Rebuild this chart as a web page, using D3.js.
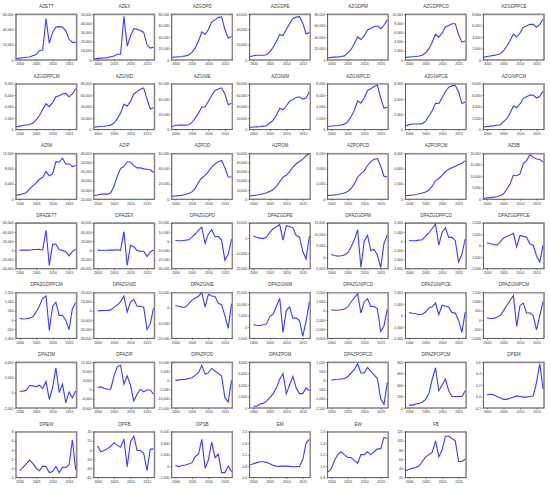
<!DOCTYPE html>
<html>
<head>
<meta charset="utf-8">
<script src="https://cdn.jsdelivr.net/npm/d3@7"></script>
<style>
  body { margin: 0; background: #fff; }
  svg { display: block; }
  .title { font-family: "Liberation Sans", Arial, sans-serif; font-size: 4.6px; fill: #444; }
  .axis text { font-family: "Liberation Sans", Arial, sans-serif; font-size: 3.5px; fill: #333; }
  .axis path, .axis line { stroke: #333; stroke-width: 0.5; }
  .line { fill: none; stroke: #3b3bff; stroke-width: 1.1; }
</style>
</head>
<body>
<div id="chart"></div>
<script>
const names = [
  "AZETT", "AZEX", "AZGDPD", "AZGDPE", "AZGDPM", "AZGDPPCD", "AZGDPPCE",
  "AZGDPPCM", "AZGNID", "AZGNIE", "AZGNIM", "AZGNIPCD", "AZGNIPCE", "AZGNIPCM",
  "AZIM", "AZIP", "AZPOD", "AZPOM", "AZPOPCD", "AZPOPCM", "AZSB",
  "DPAZETT", "DPAZEX", "DPAZGDPD", "DPAZGDPE", "DPAZGDPM", "DPAZGDPPCD", "DPAZGDPPCE",
  "DPAZGDPPCM", "DPAZGNID", "DPAZGNIE", "DPAZGNIM", "DPAZGNIPCD", "DPAZGNIPCE", "DPAZGNIPCM",
  "DPAZIM", "DPAZIP", "DPAZPOD", "DPAZPOM", "DPAZPOPCD", "DPAZPOPCM", "DPEM",
  "DPEW", "DPFB", "DPSB", "EM", "EW", "FB"
];

// level series 1999-2017, differenced series 2000-2017
const levelYears = d3.range(1999, 2018);
const diffYears = d3.range(2000, 2018);
const xTicks = [2000, 2005, 2010, 2015];

const AZETT = [2000, 2500, 3000, 3500, 4000, 5500, 7000, 12500, 13000, 54000, 22000, 36000, 43000, 43500, 43000, 38000, 27000, 23000, 23000];
const AZEX = [1000, 1800, 2000, 2200, 2600, 3600, 4300, 6300, 6300, 47500, 15000, 26000, 34000, 33500, 32000, 30000, 16500, 13000, 13800];
const AZGDPD = [4500, 5200, 5700, 6200, 7200, 8700, 13200, 21000, 33000, 48800, 44300, 52900, 65900, 69700, 74200, 75200, 53000, 37800, 40700];
const AZGDPE = [4200, 5600, 6200, 6200, 6200, 6900, 10600, 16700, 24100, 33100, 31800, 39900, 47500, 54200, 55900, 56600, 48000, 34300, 35700];
const AZGDPM = [3800, 4600, 5000, 5500, 6200, 7100, 12500, 18000, 28300, 40100, 35600, 42500, 52100, 54700, 58200, 59000, 54400, 60400, 70100];
const AZGDPPCD = [570, 650, 700, 760, 880, 1040, 1580, 2470, 3850, 5600, 4950, 5840, 7190, 7500, 7870, 7890, 5500, 3880, 4130];
const AZGDPPCE = [500, 600, 700, 800, 900, 1100, 1600, 2400, 3400, 4500, 4000, 4700, 5700, 5900, 6200, 6200, 5700, 6200, 7100];
const AZGDPPCM = [500, 600, 700, 800, 900, 1100, 1700, 2400, 3500, 4500, 4000, 4700, 5700, 5900, 6200, 6300, 5700, 6200, 7100];
const AZGNID = [4300, 4900, 5300, 5800, 6700, 7800, 11500, 19000, 29000, 44000, 41000, 49000, 62000, 66000, 70000, 72500, 53000, 36000, 38500];
const AZGNIE = [4000, 5300, 5900, 5900, 5900, 6400, 9300, 15000, 21500, 29500, 29500, 37000, 44500, 51000, 53000, 54500, 46500, 32500, 34500];
const AZGNIM = [3600, 4400, 4800, 5300, 6000, 6800, 11500, 16000, 25000, 37000, 34500, 41000, 49500, 52500, 56000, 57000, 53000, 55000, 66000];
const AZGNIPCD = [550, 620, 660, 710, 810, 950, 1360, 2240, 3340, 5000, 4600, 5500, 6800, 7100, 7500, 7700, 5500, 3700, 3900];
const AZGNIPCE = [500, 650, 730, 740, 730, 780, 1110, 1770, 2460, 3420, 3400, 4160, 4940, 5540, 5700, 5780, 4900, 3400, 3600];
const AZGNIPCM = [450, 550, 600, 650, 750, 850, 1400, 1900, 2900, 4100, 3800, 4500, 5400, 5700, 6000, 6000, 5500, 5800, 6700];
const AZIM = [1000, 1200, 1400, 1700, 2600, 3500, 4200, 5200, 5700, 7200, 6100, 6600, 9800, 9700, 10700, 9200, 9200, 8500, 8800];
const AZIP = [14000, 14500, 15500, 15500, 15500, 17000, 24000, 35000, 43500, 45500, 50500, 50500, 46500, 44000, 44000, 43000, 42500, 42000, 39000];
const AZPOD = [4000, 4300, 4700, 5200, 6200, 7500, 9500, 14000, 22000, 28000, 31000, 36000, 42000, 46000, 49000, 50500, 41000, 29000, 29000];
const AZPOM = [3500, 4000, 4500, 5200, 6000, 7000, 8500, 10500, 14000, 19000, 24000, 26000, 30000, 35000, 38500, 41000, 43500, 47000, 50000];
const AZPOPCD = [500, 510, 560, 620, 700, 800, 1000, 1400, 2000, 2900, 3300, 3700, 4400, 4900, 5200, 5300, 4300, 3000, 2900];
const AZPOPCM = [450, 500, 550, 620, 700, 800, 950, 1200, 1700, 2400, 2700, 3100, 3600, 3900, 4100, 4300, 4500, 4700, 5000];
const AZSB = [300, 600, 700, 900, 1100, 1600, 2300, 4300, 6700, 10500, 10200, 11000, 15500, 16800, 19300, 18300, 17500, 17300, 16200];

const DPAZETT = [500, 500, 500, 500, 2000, 2000, 2500, 500, 43800, -32600, 13700, 13500, 1200, 0, -3000, -12000, -2500, 2600];
const DPAZEX = [500, 200, 300, 500, 1000, 700, 1500, 0, 41000, -32500, 11000, 8000, -500, -1500, -2000, -13500, -3500, 800];
const DPAZGDPD = [700, 500, 500, 1000, 1500, 4500, 7800, 12000, 15200, -2400, 7900, 12300, 4900, 5300, 1200, -20700, -14200, 2300];
const DPAZGDPE = [1400, 600, 0, -300, 700, 3700, 6100, 7400, 9000, -1300, 8100, 7600, 6700, 1700, 700, -8600, -13700, 1400];
const DPAZGDPM = [1200, 800, 500, 700, 1000, 2000, 4500, 7500, 12000, -4400, 7000, 9600, 2900, 3400, 1000, -4500, 6000, 9700];
const DPAZGDPPCD = [80, 50, 60, 120, 160, 540, 890, 1380, 1850, -430, 970, 1450, 420, 420, 50, -2270, -1420, 240];
const DPAZGDPPCE = [260, 180, 120, 60, 350, 680, 800, 950, 1090, -90, 900, 820, 740, 150, 50, -880, -1400, 60];
const DPAZGDPPCM = [90, 55, 70, 100, 170, 440, 760, 1180, 1300, -570, 750, 970, 240, 260, -20, -530, 610, 940];
const DPAZGNID = [100, 200, 300, 500, 1000, 3700, 6500, 10000, 16000, -1500, 9500, 12500, 5000, 5000, 4000, -20500, -14000, 3000];
const DPAZGNIE = [1500, 1000, 400, 300, 2500, 5000, 6400, 7500, 9800, 400, 8800, 7700, 7400, 2700, 2200, -5100, -13500, 2700];
const DPAZGNIM = [900, 700, 600, 900, 1300, 4500, 5500, 9000, 12400, -2400, 7200, 8700, 3800, 3800, 2800, -4100, 2500, 10900];
const DPAZGNIPCD = [110, 60, 60, 120, 200, 420, 960, 1400, 1880, -260, 960, 1320, 480, 480, 220, -2240, -1620, 150];
const DPAZGNIPCE = [240, 190, 150, 60, 100, 290, 650, 740, 1090, 60, 880, 790, 740, 240, 200, -440, -1470, 290];
const DPAZGNIPCM = [110, 80, 90, 150, 250, 510, 790, 1060, 1340, -350, 790, 920, 370, 390, 240, -530, 240, 1010];
const DPAZIM = [180, 200, 310, 930, 890, 760, 980, 530, 1470, -890, 670, 3240, 0, 1110, -1330, 90, -670, 220];
const DPAZIP = [870, 1160, 440, 150, 150, 5960, 10000, 10600, 2330, 5960, 1890, -4950, -2040, 150, -1020, -150, -150, -2040];
const DPAZPOD = [0, 300, 500, 540, 1000, 1450, 2700, 4200, 8150, 3300, 4200, 6500, 5100, 3800, 2400, -9400, -11800, 0];
const DPAZPOM = [300, 300, 700, 800, 1200, 1800, 2500, 3500, 5000, 6000, 2500, 4000, 5500, 3500, 2500, 2500, 3500, 3000];
const DPAZPOPCD = [10, 50, 60, 80, 100, 200, 400, 600, 900, 400, 400, 700, 500, 300, 100, -1000, -1300, -100];
const DPAZPOPCM = [50, 50, 70, 80, 100, 150, 250, 500, 700, 300, 400, 500, 300, 200, 200, 200, 200, 300];
const DPEM = [0.03, 0.04, 0.03, 0.0, -0.02, -0.05, -0.05, -0.03, -0.01, 0.01, 0.0, -0.01, -0.01, 0.0, 0.01, 0.24, 0.57, 0.13];
const DPEW = [-0.5, 0.2, 1.0, 1.8, 1.1, 0, -0.5, 0.5, 0.4, -0.9, -0.7, 0.4, -0.9, 0.3, 0.2, 0.8, 6.2, -0.3];
const DPFB = [9, -4, -1, 3, 8, 16, 10, 6, 24, -36, 18, 30, -1, -1, -7, -45, 2, 2];
const DPSB = [90, -90, 100, 200, 380, 600, 1650, 2100, 4650, -380, 1070, 4150, 1480, 2060, -1130, -1130, 0, -960];
const EM = [0.85, 0.88, 0.92, 0.95, 0.95, 0.93, 0.88, 0.83, 0.80, 0.79, 0.80, 0.80, 0.79, 0.78, 0.78, 0.79, 1.03, 1.60, 1.73];
const EW = [0.9, 0.95, 1.1, 1.2, 1.25, 1.2, 1.15, 1.15, 1.1, 1.05, 1.2, 1.2, 1.25, 1.2, 1.25, 1.3, 1.3, 1.5, 1.48];
const FB = [35, 38, 40, 42, 45, 55, 65, 70, 75, 100, 65, 80, 110, 110, 105, 100, 55, 55, 60];

const series = [
  AZETT, AZEX, AZGDPD, AZGDPE, AZGDPM, AZGDPPCD, AZGDPPCE,
  AZGDPPCM, AZGNID, AZGNIE, AZGNIM, AZGNIPCD, AZGNIPCE, AZGNIPCM,
  AZIM, AZIP, AZPOD, AZPOM, AZPOPCD, AZPOPCM, AZSB,
  DPAZETT, DPAZEX, DPAZGDPD, DPAZGDPE, DPAZGDPM, DPAZGDPPCD, DPAZGDPPCE,
  DPAZGDPPCM, DPAZGNID, DPAZGNIE, DPAZGNIM, DPAZGNIPCD, DPAZGNIPCE, DPAZGNIPCM,
  DPAZIM, DPAZIP, DPAZPOD, DPAZPOM, DPAZPOPCD, DPAZPOPCM, DPEM,
  DPEW, DPFB, DPSB, EM, EW, FB
];

// y tick labels per panel (first and last tick bound the axis)
const yTicks = [
  [0, 20000, 40000, 60000], [0, 10000, 20000, 30000, 40000, 50000], [0, 20000, 40000, 60000, 80000], [0, 20000, 40000, 60000], [0, 20000, 40000, 60000, 80000], [0, 2000, 4000, 6000, 8000, 10000], [0, 2000, 4000, 6000, 8000],
  [0, 2000, 4000, 6000, 8000], [0, 20000, 40000, 60000, 80000], [0, 20000, 40000, 60000], [0, 20000, 40000, 60000, 80000], [0, 2000, 4000, 6000, 8000], [0, 2000, 4000, 6000], [0, 2000, 4000, 6000, 8000],
  [0, 4000, 8000, 12000], [10000, 20000, 30000, 40000, 50000, 60000], [0, 20000, 40000, 60000], [0, 10000, 20000, 30000, 40000, 50000], [0, 2000, 4000, 6000], [0, 2000, 4000, 6000], [0, 5000, 10000, 15000, 20000],
  [-40000, -20000, 0, 20000, 40000, 60000], [-40000, -20000, 0, 20000, 40000, 60000], [-30000, -20000, -10000, 0, 10000, 20000], [-20000, -10000, 0, 10000], [-5000, 0, 5000, 10000, 15000], [-3000, -2000, -1000, 0, 1000, 2000], [-2000, -1000, 0, 1000, 2000],
  [-1000, -500, 0, 500, 1000, 1500], [-30000, -20000, -10000, 0, 10000, 20000], [-20000, -10000, 0, 10000], [-5000, 0, 5000, 10000, 15000], [-3000, -2000, -1000, 0, 1000, 2000], [-2000, -1000, 0, 1000, 2000], [-1000, -500, 0, 500, 1000, 1500],
  [-2000, 0, 2000, 4000], [-8000, -4000, 0, 4000, 8000, 12000], [-15000, -10000, -5000, 0, 5000, 10000], [0, 2000, 4000, 6000, 8000], [-1500, -1000, -500, 0, 500, 1000], [0, 200, 400, 600, 800], [-0.2, 0.0, 0.2, 0.4, 0.6],
  [-2, 0, 2, 4, 6, 8], [-60, -40, -20, 0, 20, 40], [-2000, 0, 2000, 4000, 6000], [0.4, 0.8, 1.2, 1.6, 2.0], [0.8, 1.0, 1.2, 1.4, 1.6], [20, 40, 60, 80, 100, 120]
];

const width = 550;
const height = 491;
const cols = 7;
const plotW = 61;
const plotH = 46;
const colStep = 77.9;
const rowStep = 69.6;

const svg = d3.select("#chart").append("svg")
  .attr("width", width)
  .attr("height", height);

const x = d3.scaleLinear().domain([1998.9, 2017.4]).range([0, plotW]);

names.forEach((name, i) => {
  const c = i % cols;
  const r = Math.floor(i / cols);
  const vals = series[i];
  const yrs = vals.length === levelYears.length ? levelYears : diffYears;
  const ticks = yTicks[i];

  const g = svg.append("g")
    .attr("transform", `translate(${16 + c * colStep}, ${14 + r * rowStep})`);

  const y = d3.scaleLinear()
    .domain([ticks[0], ticks[ticks.length - 1]])
    .range([plotH, 0]);

  const decimals = ticks.some(t => !Number.isInteger(t));
  const fmt = decimals ? d3.format(".1f") : d3.format(",");

  // frame, with the heavier grey edge on top and right
  g.append("rect")
    .attr("width", plotW)
    .attr("height", plotH)
    .attr("fill", "#fff")
    .attr("stroke", "#666")
    .attr("stroke-width", 0.5);
  g.append("path")
    .attr("d", `M0,0.5H${plotW - 0.5}V${plotH}`)
    .attr("fill", "none")
    .attr("stroke", "#8a8a8a")
    .attr("stroke-width", 1.4);

  g.append("g")
    .attr("class", "axis")
    .call(d3.axisLeft(y).tickValues(ticks).tickSize(1.5).tickPadding(1)
      .tickFormat(d => fmt(d).replace("\u2212", "-")));

  g.append("g")
    .attr("class", "axis")
    .attr("transform", `translate(0, ${plotH})`)
    .call(d3.axisBottom(x).tickValues(xTicks).tickSize(1.5).tickPadding(1.5)
      .tickFormat(d3.format("d")));

  g.selectAll(".axis .domain").attr("d", null);
  g.append("path")
    .attr("d", `M0,0V${plotH}H${plotW}`)
    .attr("fill", "none")
    .attr("stroke", "#222")
    .attr("stroke-width", 0.6);

  const line = d3.line()
    .x((d, k) => x(yrs[k]))
    .y(d => y(d));

  g.append("path")
    .datum(vals)
    .attr("class", "line")
    .attr("d", line);

  g.append("text")
    .attr("class", "title")
    .attr("x", plotW / 2)
    .attr("y", -6)
    .attr("text-anchor", "middle")
    .text(name);
});
</script>
</body>
</html>
